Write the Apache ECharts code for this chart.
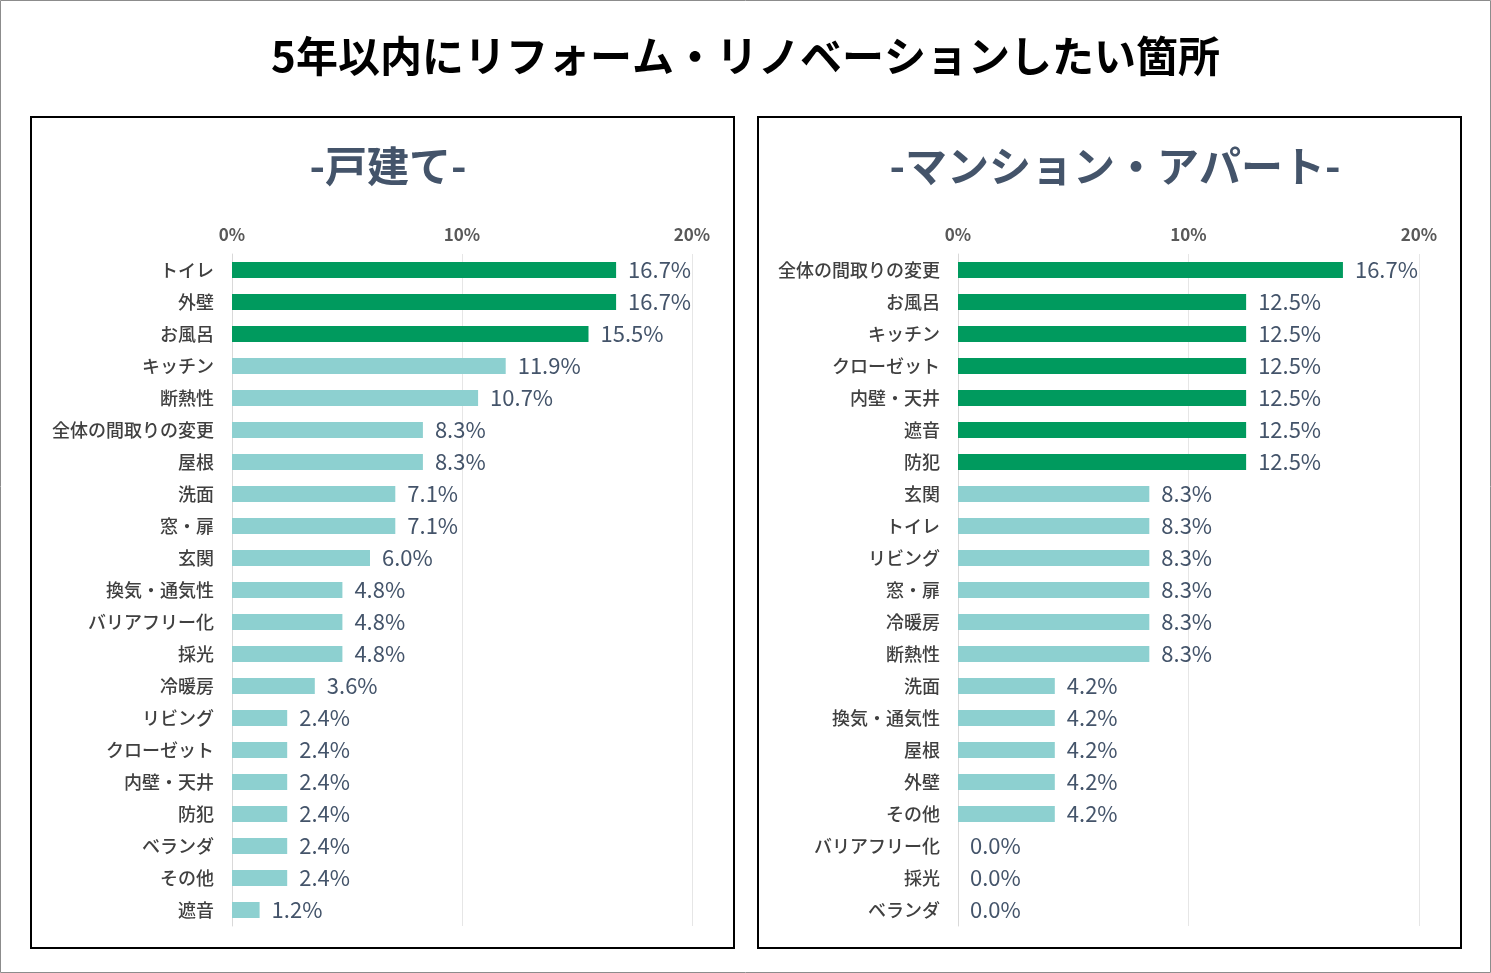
<!DOCTYPE html>
<html><head><meta charset="utf-8">
<script src="https://cdn.jsdelivr.net/npm/echarts@6/dist/echarts.min.js"></script>
<style>body{margin:0;background:#fff}#c{width:1491px;height:973px}</style>
</head><body><div id="c"></div>
<script>
var houseCats = ['トイレ','外壁','お風呂','キッチン','断熱性','全体の間取りの変更','屋根','洗面','窓・扉','玄関','換気・通気性','バリアフリー化','採光','冷暖房','リビング','クローゼット','内壁・天井','防犯','ベランダ','その他','遮音'];
var houseVals = [16.7,16.7,15.5,11.9,10.7,8.3,8.3,7.1,7.1,6.0,4.8,4.8,4.8,3.6,2.4,2.4,2.4,2.4,2.4,2.4,1.2];
var houseTop = 3;
var aptCats = ['全体の間取りの変更','お風呂','キッチン','クローゼット','内壁・天井','遮音','防犯','玄関','トイレ','リビング','窓・扉','冷暖房','断熱性','洗面','換気・通気性','屋根','外壁','その他','バリアフリー化','採光','ベランダ'];
var aptVals = [16.7,12.5,12.5,12.5,12.5,12.5,12.5,8.3,8.3,8.3,8.3,8.3,8.3,4.2,4.2,4.2,4.2,4.2,0.0,0.0,0.0];
var aptTop = 7;

var dark = '#009a5e', light = '#8dd0d0', txt = '#44546a';
function colored(vals, n){
  return vals.map(function(v,i){ return {value:v, itemStyle:{color: i<n?dark:light}}; });
}
function xAx(g){
  return {gridIndex:g, type:'value', min:0, max:20, interval:10, position:'top',
    axisLabel:{formatter:'{value}%', color:'#595959', fontSize:17, fontWeight:'bold', margin:11},
    splitLine:{lineStyle:{color:'#e6e6e6'}}, axisLine:{show:false}, axisTick:{show:false}};
}
function yAx(g, cats){
  return {gridIndex:g, type:'category', data:cats, inverse:true,
    axisLabel:{color:'#404040', fontSize:18, fontWeight:500, margin:18},
    axisLine:{lineStyle:{color:'#d9d9d9'}}, axisTick:{show:false}};
}
function ser(g, vals, n){
  return {type:'bar', xAxisIndex:g, yAxisIndex:g, data:colored(vals,n), barWidth:16,
    label:{show:true, position:'right', formatter:function(p){return p.value.toFixed(1)+'%';},
      color:txt, fontSize:22, distance:12}};
}
var chart = echarts.init(document.getElementById('c'));
chart.setOption({
  textStyle:{fontFamily:'Noto Sans CJK JP'},
  animation:false,
  title:[
    {text:'5年以内にリフォーム・リノベーションしたい箇所', left:'center', top:30, textStyle:{fontSize:42, fontWeight:'bold', color:'#000'}},
    {text:'-戸建て-', left:383, textAlign:'center', top:140, textStyle:{fontSize:42, fontWeight:'bold', color:txt}},
    {text:'-マンション・アパート-', left:1110, textAlign:'center', top:140, textStyle:{fontSize:42, fontWeight:'bold', color:txt}}
  ],
  graphic:[
    {type:'rect', shape:{x:0.5,y:0.5,width:1490,height:972}, style:{fill:'none', stroke:'#8c8c8c', lineWidth:1}},
    {type:'rect', shape:{x:31,y:117,width:703,height:831}, style:{fill:'none', stroke:'#000', lineWidth:2}},
    {type:'rect', shape:{x:758,y:117,width:703,height:831}, style:{fill:'none', stroke:'#000', lineWidth:2}}
  ],
  grid:[
    {left:232, width:460, top:254, height:672},
    {left:958, width:461, top:254, height:672}
  ],
  xAxis:[xAx(0), xAx(1)],
  yAxis:[yAx(0, houseCats), yAx(1, aptCats)],
  series:[ser(0, houseVals, houseTop), ser(1, aptVals, aptTop)]
});
</script></body></html>
